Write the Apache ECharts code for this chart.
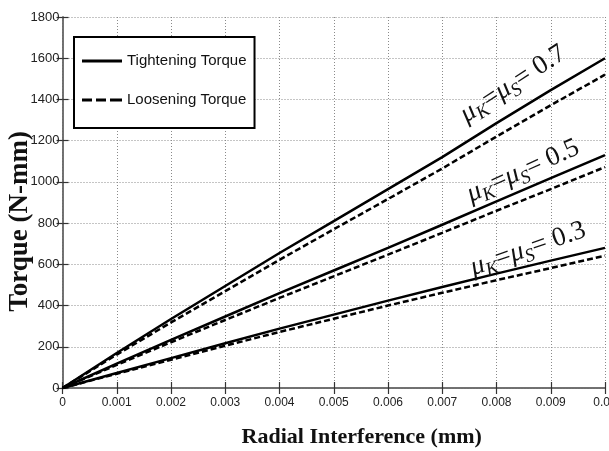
<!DOCTYPE html>
<html>
<head>
<meta charset="utf-8">
<script src="https://cdn.jsdelivr.net/npm/echarts@6/dist/echarts.min.js"></script>
<style>html,body{margin:0;padding:0;background:#fff}#c{width:609px;height:451px}</style>
</head>
<body>
<div id="c"></div>
<script>
const xValues = [0, 0.001, 0.002, 0.003, 0.004, 0.005, 0.006, 0.007, 0.008, 0.009, 0.01];
const xTickLabels = ['0','0.001','0.002','0.003','0.004','0.005','0.006','0.007','0.008','0.009','0.01'];
const yTickLabels = ['0','200','400','600','800','1000','1200','1400','1600','1800'];
const tight07 = [0, 170, 335, 495, 655, 810, 965, 1120, 1285, 1445, 1600];
const loose07 = [0, 162, 318, 470, 622, 770, 917, 1065, 1220, 1372, 1520];
const tight05 = [0, 118, 233, 347, 460, 570, 680, 792, 905, 1018, 1130];
const loose05 = [0, 112, 222, 330, 437, 542, 647, 753, 860, 965, 1072];
const tight03 = [0, 73, 145, 217, 288, 356, 424, 490, 555, 618, 680];
const loose03 = [0, 69, 137, 205, 272, 336, 400, 462, 523, 582, 642];
const seriesNames = ['Tightening Torque', 'Loosening Torque'];
const annotationTexts = ['0.7', '0.5', '0.3'];

const pairs = arr => xValues.map((x, i) => [x, arr[i]]);
const chart = echarts.init(document.getElementById('c'), null, {renderer: 'canvas'});

const lineSeries = (name, arr, dashed) => ({
  name: name, type: 'line', data: pairs(arr), symbol: 'none', smooth: false,
  xAxisIndex: 0, yAxisIndex: 0,
  lineStyle: {color: '#000', width: 2.5, type: dashed ? [6, 3] : 'solid'},
  itemStyle: {color: '#000'}, emphasis: {disabled: true}, z: 3
});

const sans = "'Liberation Sans', Arial, sans-serif";
const serif = "'Liberation Serif', 'Times New Roman', serif";

const axisCommon = {
  min: 0,
  axisLine: {show: true, lineStyle: {color: '#6a6a6a', width: 1.5}},
  axisTick: {show: true, inside: true, length: 6, lineStyle: {color: '#333', width: 1.2}}
};

const richAnno = {
  mu: {fontFamily: serif, fontStyle: 'italic', fontSize: 27, color: '#111'},
  sub: {fontFamily: serif, fontStyle: 'italic', fontSize: 19, color: '#111', padding: [15, 0, 0, 0]},
  eq: {fontFamily: serif, fontSize: 27, color: '#111'}
};
const annoText = v => '{mu|μ}{sub|K}{eq|=}{mu|μ}{sub|S}{eq|= ' + v + '}';
const annoPos = [[513, 84, 33], [523, 171, 24], [528, 249, 19]];

const solidIcon = 'path://M0,0h40v3h-40z';
const dashIcon = 'path://M0,0h10v3h-10z M14,0h10v3h-10z M28,0h12v3h-12z';

const option = {
  animation: false,
  backgroundColor: '#fff',
  grid: {left: 62.5, right: 4, top: 17, bottom: 63, containLabel: false, outerBoundsMode: 'none'},
  legend: {
    data: [{name: seriesNames[0], icon: solidIcon}, {name: seriesNames[1], icon: dashIcon}],
    orient: 'vertical',
    left: 74, top: 37,
    padding: [14, 8, 18, 8],
    itemGap: 19,
    itemWidth: 40, itemHeight: 3,
    symbolKeepAspect: false,
    backgroundColor: '#fff',
    borderColor: '#000', borderWidth: 2,
    textStyle: {fontFamily: sans, fontSize: 15, color: '#111', lineHeight: 20},
    selectedMode: false
  },
  xAxis: [
    Object.assign({}, axisCommon, {
      type: 'value', position: 'bottom', max: 0.01, interval: 0.001,
      name: 'Radial Interference (mm)', nameLocation: 'middle', nameGap: 38, nameMoveOverlap: false,
      nameTextStyle: {fontFamily: serif, fontWeight: 'bold', fontSize: 22, color: '#111', padding: [0, 0, 0, 56],
        verticalAlign: 'top'},
      axisLabel: {fontFamily: sans, fontSize: 12, color: '#222', margin: 9,
        formatter: v => xTickLabels[Math.round(v / 0.001)]},
      splitLine: {show: true, lineStyle: {color: '#8a8a8a', type: [1, 2], width: 1}}
    }),
    Object.assign({}, axisCommon, {
      type: 'value', position: 'top', max: 0.01, interval: 0.001,
      axisLabel: {show: false}, splitLine: {show: false}
    })
  ],
  yAxis: [
    Object.assign({}, axisCommon, {
      type: 'value', position: 'left', max: 1800, interval: 200,
      name: 'Torque (N-mm)', nameLocation: 'middle', nameGap: 29, nameRotate: 90, nameMoveOverlap: false,
      nameTextStyle: {fontFamily: serif, fontWeight: 'bold', fontSize: 27, color: '#111', padding: [0, 38, 0, 0],
        verticalAlign: 'bottom'},
      axisLabel: {fontFamily: sans, fontSize: 13, color: '#222', margin: 3,
        formatter: v => yTickLabels[Math.round(v / 200)]},
      splitLine: {show: true, lineStyle: {color: '#8a8a8a', type: [1, 2], width: 1}}
    }),
    Object.assign({}, axisCommon, {
      type: 'value', position: 'right', max: 1800, interval: 200,
      axisLabel: {show: false}, splitLine: {show: false}
    })
  ],
  series: [
    lineSeries(seriesNames[0], tight07, false),
    lineSeries(seriesNames[1], loose07, true),
    lineSeries(seriesNames[0], tight05, false),
    lineSeries(seriesNames[1], loose05, true),
    lineSeries(seriesNames[0], tight03, false),
    lineSeries(seriesNames[1], loose03, true)
  ],
  graphic: annotationTexts.map((t, i) => ({
    type: 'text',
    x: annoPos[i][0], y: annoPos[i][1],
    rotation: annoPos[i][2] * Math.PI / 180,
    z: 10,
    style: {
      text: annoText(t),
      rich: richAnno,
      align: 'center', verticalAlign: 'middle',
      fill: '#111'
    }
  }))
};
chart.setOption(option);
</script>
</body>
</html>
